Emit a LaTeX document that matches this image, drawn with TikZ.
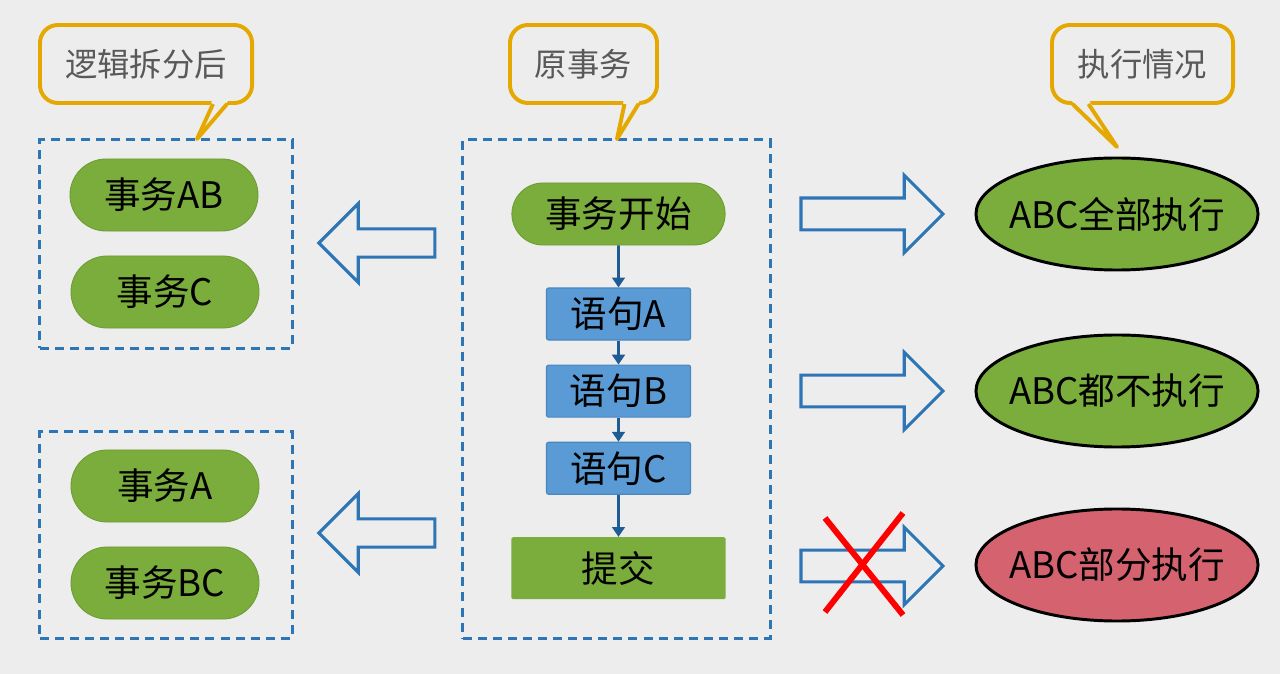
\documentclass[tikz,border=0pt]{standalone}
\usepackage{fontspec}
\setmainfont{Noto Sans CJK SC}
\usepackage{tikz}
\usetikzlibrary{shapes.geometric, shapes.misc, shapes.arrows, arrows.meta, positioning, calc}

\definecolor{bggray}{HTML}{EDEDED}
\definecolor{pillgreen}{HTML}{7AAD3B}
\definecolor{stmtblue}{HTML}{5B9BD5}
\definecolor{stmtedge}{HTML}{4A86BE}
\definecolor{dashblue}{HTML}{2E75B6}
\definecolor{flowblue}{HTML}{1F5C96}
\definecolor{noteyellow}{HTML}{E5A800}
\definecolor{notetext}{HTML}{595959}
\definecolor{partred}{HTML}{D4636F}

\begin{document}
\begin{tikzpicture}[
    x=0.025cm, y=-0.025cm,
    group/.style={rectangle, draw=dashblue, line width=2.1pt, dash pattern=on 6.4pt off 4.3pt, minimum width=6.3cm},
    pill/.style={rounded rectangle, draw=pillgreen!90!black, line width=0.6pt, fill=pillgreen, minimum width=4.7cm, minimum height=1.8cm, inner sep=0pt, font=\fontsize{26pt}{30pt}\selectfont},
    stmt/.style={rectangle, rounded corners=1.5pt, draw=stmtedge, line width=0.8pt, fill=stmtblue, minimum width=3.6cm, minimum height=1.3cm, inner sep=0pt, font=\fontsize{26pt}{30pt}\selectfont},
    commit/.style={rectangle, rounded corners=1pt, fill=pillgreen, minimum width=5.35cm, minimum height=1.55cm, inner sep=0pt, font=\fontsize{26pt}{30pt}\selectfont},
    result/.style={ellipse, draw=black, line width=2.1pt, minimum width=7.05cm, minimum height=2.8cm, inner xsep=-0.3cm, inner ysep=0pt, font=\fontsize{26pt}{30pt}\selectfont},
    note/.style={rectangle, rounded corners=0.45cm, draw=noteyellow, line width=2.8pt, fill=bggray, text=notetext, inner sep=0pt, minimum height=1.95cm, font=\fontsize{23pt}{28pt}\selectfont},
    bigarrow/.style={single arrow, draw=dashblue, line width=2.2pt, inner sep=0pt, text depth=0pt},
    flow/.style={-{Triangle[width=9pt,length=7pt]}, line width=2pt, draw=flowblue},
    node distance=0.6cm
]
\fill[bggray] (0,0) rectangle (1280,674);
\useasboundingbox (0,0) rectangle (1280,674);

% original transaction
\node[group, minimum width=7.675cm, minimum height=12.45cm] (orig) at (616.5,389) {};
\node[pill, minimum width=5.33cm, minimum height=1.55cm] (begin) at (618.5,214) {事务开始};
\node[stmt, below=1.05cm of begin] (sa) {语句A};
\node[stmt, below=of sa] (sb) {语句B};
\node[stmt, below=of sb] (sc) {语句C};
\node[commit, below=1.05cm of sc] (commit) {提交};

\draw[flow] (begin) -- (sa);
\draw[flow] (sa) -- (sb);
\draw[flow] (sb) -- (sc);
\draw[flow] (sc) -- (commit);

% after the logical split
\node[group, minimum height=5.2cm] (split1) at (166,244) {};
\node[pill] (tab) at (164,195) {事务AB};
\node[pill] (tc) at (165,292) {事务C};
\node[group, minimum height=5.15cm] (split2) at (166,535) {};
\node[pill] (ta) at (165,486) {事务A};
\node[pill] (tbc) at (165,583) {事务BC};

\node[bigarrow, shape border rotate=180, text height=0.63cm, minimum height=2.9cm, single arrow head extend=0.63cm] (toleft1) at (384,243) {};
\node[bigarrow, shape border rotate=180, text height=0.63cm, minimum height=2.9cm, single arrow head extend=0.63cm] (toleft2) at (384,533) {};

% outcomes
\node[result, fill=pillgreen] (all) at (1117,214) {ABC全部执行};
\node[result, fill=pillgreen] (none) at (1117,391) {ABC都不执行};
\node[result, fill=partred] (part) at (1117,565) {ABC部分执行};

\node[bigarrow, text height=0.72cm, minimum height=3.55cm, single arrow head extend=0.57cm] (toall) at (864,214) {};
\node[bigarrow, text height=0.72cm, minimum height=3.55cm, single arrow head extend=0.57cm] (tonone) at (864,391) {};
\node[bigarrow, text height=0.72cm, minimum height=3.55cm, single arrow head extend=0.57cm] (topart) at (864,566) {};

\draw[red, line width=4.2pt] ($(topart)+(-39,-48)$) -- ($(topart)+(39,49)$);
\draw[red, line width=4.2pt] ($(topart)+(39,-53)$) -- ($(topart)+(-39,46)$);

% callouts
\node[note, minimum width=5.3cm] (n1) at (146,64) {逻辑拆分后};
\node[note, minimum width=3.675cm] (n2) at (583.5,64) {原事务};
\node[note, minimum width=4.525cm] (n3) at (1142.5,64) {执行情况};

\coordinate (p1) at (197,139);
\coordinate (p2) at (617,139);
\coordinate (p3) at (1117,147);

\fill[bggray] ($(n1.south)+(66,-4)$) -- (p1) -- ($(n1.south)+(82,-4)$) -- cycle;
\draw[noteyellow, line width=2.8pt, line join=round] ($(n1.south)+(67,-1)$) -- (p1) -- ($(n1.south)+(81,-1)$);
\fill[bggray] ($(n2.south)+(40,-4)$) -- (p2) -- ($(n2.south)+(56,-4)$) -- cycle;
\draw[noteyellow, line width=2.8pt, line join=round] ($(n2.south)+(41,-1)$) -- (p2) -- ($(n2.south)+(55,-1)$);
\fill[bggray] ($(n3.south)+(-71,-4)$) -- (p3) -- ($(n3.south)+(-53,-4)$) -- cycle;
\draw[noteyellow, line width=2.8pt, line join=round] ($(n3.south)+(-70,-1)$) -- (p3) -- ($(n3.south)+(-54,-1)$);
\end{tikzpicture}
\end{document}
